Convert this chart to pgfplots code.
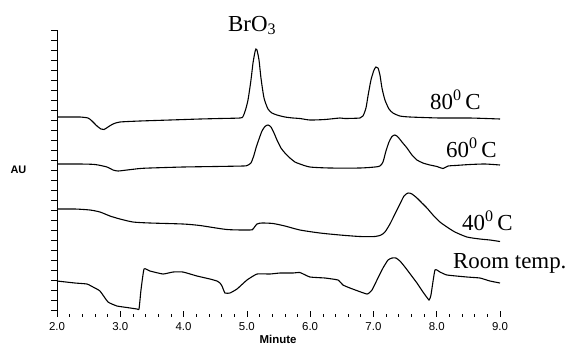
\documentclass[border=0pt]{standalone}
\usepackage{fontspec}
\setmainfont{Liberation Serif}
\setsansfont{Liberation Sans}
\usepackage{pgfplots}
\pgfplotsset{compat=1.18}
\begin{document}
\begin{tikzpicture}[x=1bp,y=1bp]
\useasboundingbox (0,0) rectangle (573,-348);
\begin{axis}[
  at={(57bp,-317bp)}, anchor=south west,
  scale only axis, width=443bp, height=287bp,
  xmin=2, xmax=9, ymin=-317, ymax=-30,
  axis lines=left, axis line style={-, line width=0.6pt},
  xtick={2,3,4,5,6,7,8,9}, minor x tick num=4,
  ytick={-310,-300,...,-30}, yticklabels={},
  tick align=outside, major tick length=6bp, minor tick length=3.5bp,
  tick style={draw=black, line width=0.6pt},
  minor tick style={draw=black, line width=0.6pt},
  major x tick style={yshift=6bp},
  minor x tick style={yshift=3.5bp},
  xticklabel style={yshift=4bp, font=\sffamily\fontsize{11.5}{11.5}\selectfont, /pgf/number format/.cd, fixed, fixed zerofill, precision=1, assume math mode=true},
  clip=false,
]
% 80 C
\addplot[black, no marks, line width=1.1pt, smooth, tension=0.4] coordinates {(2.0,-117)(2.205,-117)(2.363,-117)(2.490,-118)(2.553,-121)(2.632,-126)(2.695,-129)(2.743,-129.5)(2.806,-127)(2.885,-124)(2.995,-122)(3.311,-121)(3.785,-120)(4.259,-119)(4.575,-118.5)(4.891,-118)(4.939,-116.5)(4.978,-110)(5.018,-100)(5.065,-80)(5.097,-63)(5.128,-52)(5.144,-49)(5.160,-50)(5.192,-60)(5.223,-78)(5.271,-98)(5.334,-109)(5.397,-113)(5.476,-115)(5.602,-117)(5.729,-118)(5.839,-118.5)(5.997,-120)(6.234,-119.5)(6.471,-118)(6.550,-118.5)(6.787,-118)(6.835,-116)(6.882,-108)(6.914,-96)(6.961,-80)(7.009,-70)(7.040,-67)(7.072,-68)(7.103,-75)(7.135,-88)(7.182,-100)(7.246,-109)(7.309,-113)(7.419,-116)(7.577,-117)(8.051,-118)(8.525,-118)(9.0,-119)};
% 60 C
\addplot[black, no marks, line width=1.1pt, smooth, tension=0.4] coordinates {(2.0,-164)(2.363,-164)(2.600,-164.5)(2.790,-167)(2.885,-170)(2.964,-171)(3.106,-170)(3.311,-168.5)(3.469,-168)(3.991,-167)(4.496,-166.5)(4.939,-166)(5.002,-165.5)(5.065,-163)(5.113,-155)(5.144,-148)(5.192,-139)(5.239,-131)(5.286,-126.5)(5.334,-125)(5.381,-127)(5.429,-133)(5.476,-140)(5.539,-148)(5.602,-153)(5.681,-158)(5.760,-162)(5.839,-164)(5.997,-167)(6.313,-168)(6.787,-168)(7.024,-167)(7.103,-166)(7.151,-162)(7.198,-151)(7.246,-142)(7.293,-136.5)(7.340,-135)(7.388,-137)(7.451,-142)(7.530,-148)(7.609,-155)(7.688,-160)(7.783,-163)(7.893,-165)(8.004,-166.5)(8.099,-168.5)(8.178,-166)(8.288,-165.5)(8.525,-164.5)(8.762,-164)(9.0,-165)};
% 40 C
\addplot[black, no marks, line width=1.1pt, smooth, tension=0.4] coordinates {(2.0,-209)(2.284,-209)(2.521,-210)(2.679,-212)(2.837,-216)(2.995,-219)(3.201,-222)(3.469,-223)(3.991,-224)(4.259,-225.5)(4.686,-229.5)(5.049,-230)(5.097,-229)(5.160,-224)(5.239,-223)(5.413,-223.5)(5.602,-226)(5.839,-230)(6.155,-233)(6.471,-235)(6.787,-236.5)(7.024,-236.5)(7.119,-235)(7.182,-232)(7.261,-224)(7.340,-214)(7.419,-204)(7.483,-196)(7.546,-193)(7.609,-194)(7.688,-198)(7.767,-203)(7.846,-208)(7.941,-215)(8.051,-222)(8.162,-227)(8.288,-232)(8.478,-237)(8.683,-239)(8.841,-240)(9.0,-241.5)};
% Room temp
\addplot[black, no marks, line width=1.1pt, smooth, tension=0.25] coordinates {(2.0,-281)(2.284,-283)(2.474,-284)(2.569,-287)(2.679,-291)(2.806,-302)(2.948,-306)(3.106,-307.5)(3.264,-309)(3.296,-309)(3.327,-290)(3.375,-269)(3.469,-271)(3.675,-274)(3.833,-272)(3.991,-272)(4.212,-276)(4.417,-279)(4.528,-281)(4.575,-283)(4.607,-286)(4.654,-293)(4.733,-293)(4.844,-289)(5.002,-280)(5.160,-274)(5.365,-274)(5.523,-273)(5.729,-273)(5.839,-272.5)(5.997,-277)(6.234,-278)(6.440,-280)(6.519,-285)(6.629,-288)(6.898,-294)(6.977,-290)(7.056,-280)(7.151,-268)(7.230,-260)(7.293,-258)(7.356,-258)(7.419,-261)(7.498,-267)(7.593,-275)(7.688,-283)(7.783,-292)(7.878,-300)(7.909,-295)(7.972,-270)(8.051,-272)(8.162,-275)(8.478,-277)(8.683,-278)(8.841,-281)(9.0,-283)};
% hide the horizontal axis line, keep its ticks
\draw[white, line width=0.8pt] (axis cs:2.006,-317) -- (axis cs:9.06,-317);
\node[anchor=base west, inner sep=0pt, font=\fontsize{23}{23}\selectfont] at (axis cs:4.702,-31) {BrO\textsubscript{3}};
\node[anchor=base west, inner sep=0pt, font=\fontsize{23}{23}\selectfont] at (axis cs:7.893,-109) {80\textsuperscript{0}\,C};
\node[anchor=base west, inner sep=0pt, font=\fontsize{23}{23}\selectfont] at (axis cs:8.146,-157) {60\textsuperscript{0}\,C};
\node[anchor=base west, inner sep=0pt, font=\fontsize{23}{23}\selectfont] at (axis cs:8.399,-230) {40\textsuperscript{0}\,C};
\node[anchor=base west, inner sep=0pt, font=\fontsize{23}{23}\selectfont] at (axis cs:8.257,-268) {Room temp.};
\end{axis}
\node[font=\sffamily\bfseries\fontsize{11}{11}\selectfont] at (18.5,-170) {AU};
\node[font=\sffamily\bfseries\fontsize{11.5}{11.5}\selectfont, inner sep=1pt] at (278,-339) {Minute};
\end{tikzpicture}
\end{document}
